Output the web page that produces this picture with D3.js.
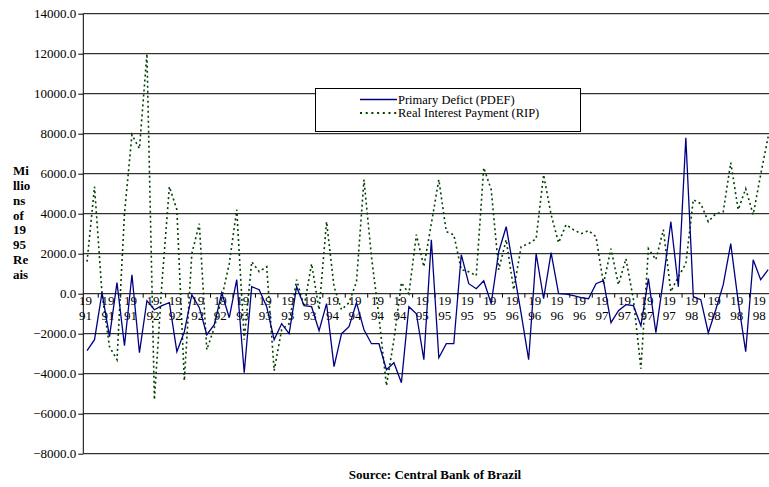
<!DOCTYPE html>
<html>
<head>
<meta charset="utf-8">
<script src="https://cdn.jsdelivr.net/npm/d3@7"></script>
<style>
  html, body { margin: 0; padding: 0; background: #fff; }
  svg { display: block; }
  text { font-family: "Liberation Serif", "Times New Roman", serif; fill: #000; }
</style>
</head>
<body>
<svg id="chart" width="769" height="487"></svg>
<script>
// Monthly categories, April 1991 – November 1998
const months = d3.timeMonths(new Date(1991, 3, 1), new Date(1998, 11, 1));

// Primary Deficit (PDEF), millions of 1995 Reais
const pdef = [
  -2850, -2300, 50, -2150, 550, -2600, 950, -2950, -350, -800,
  -600, -450, -2900, -1900, -50, -700, -2050, -1550, 50, -1200,
  700, -3950, 350, 200, -650, -2300, -1500, -2000, 350, -600,
  -650, -1850, -500, -3650, -2000, -1650, -450, -1800, -2500, -2500,
  -3800, -3450, -4450, -650, -1000, -3300, 2700, -3200, -2500, -2500,
  1950, 500, 250, 650, -500, 2100, 3350, 1200, -1000, -3300,
  2000, -250, 2050, 0, -20, -100, -200, -250, 500, 650,
  -1450, -850, -550, -600, -1600, 750, -1950, 700, 3600, 350,
  7800, -150, -300, -1950, -800, 450, 2500, -400, -2900, 1700,
  700, 1200
];

// Real Interest Payment (RIP), millions of 1995 Reais
const rip = [
  1600, 5350, 0, -2650, -3300, 4000, 7950, 7250, 12000, -5300,
  500, 5350, 4200, -4350, 2000, 3500, -2800, -1700, -200, 1500,
  4200, -2300, 1600, 1100, 1350, -3850, -1800, -1500, 700, -650,
  1500, -800, 3600, 350, -800, -450, 600, 5700, 1850, -1150,
  -4600, -2300, 550, 0, 2950, 1350, 3500, 5700, 3100, 2950,
  1200, 1100, 900, 6300, 5200, 1200, 2700, 200, 2350, 2500,
  2750, 5950, 3950, 2550, 3450, 3200, 3000, 3150, 2850, 500,
  2250, 450, 1750, -300, -3750, 2250, 1700, 3200, 100, 850,
  1500, 4700, 4500, 3600, 4000, 4100, 6550, 4200, 5250, 3950,
  5950, 7850
];

const yTicks = [-8000, -6000, -4000, -2000, 0, 2000, 4000, 6000, 8000, 10000, 12000, 14000];
const axisTitle = ["Mi", "llio", "ns", "of", "19", "95", "Re", "ais"];
const seriesNames = ["Primary Defict (PDEF)", "Real Interest Payment (RIP)"];
const sourceNote = "Source: Central Bank of Brazil";
const labelEvery = 3;

const svg = d3.select("#chart");
const W = 769;
const plotL = 83.3, plotR = 771.9, plotT = 13.7, plotB = 453.7;

const x = d3.scaleBand().domain(d3.range(months.length)).range([plotL, plotR]).paddingInner(0).paddingOuter(0);
const cx = i => x(i) + x.bandwidth() / 2;
const y = d3.scaleLinear().domain([-8000, 14000]).range([plotB, plotT]);

// horizontal gridlines
svg.append("g").selectAll("line").data(yTicks).join("line")
  .attr("x1", plotL).attr("x2", W)
  .attr("y1", d => y(d)).attr("y2", d => y(d))
  .attr("stroke", "#000").attr("stroke-width", 1);

// value axis with outward ticks
const yAxis = d3.axisLeft(y).tickValues(yTicks).tickFormat(d3.format(".1f")).tickSize(5).tickPadding(2);
const ya = svg.append("g").attr("transform", `translate(${plotL},0)`).call(yAxis);
ya.attr("font-family", null);
ya.select(".domain").attr("stroke", "#000").attr("d", `M0,${plotT}V${plotB}`);
ya.selectAll(".tick line").attr("stroke", "#000");
ya.selectAll(".tick text").style("font-size", "13px").attr("fill", "#000");

// category axis along zero line
const zy = y(0);
const labelIdx = d3.range(0, months.length, labelEvery);
const cat = svg.append("g");
cat.selectAll("line.tk").data(labelIdx).join("line").attr("class", "tk")
  .attr("x1", i => cx(i) + 1.5 * x.bandwidth()).attr("x2", i => cx(i) + 1.5 * x.bandwidth())
  .attr("y1", zy).attr("y2", zy + 4).attr("stroke", "#000");
const fmtYear = d3.timeFormat("%Y");
const lbl = cat.selectAll("text").data(labelIdx).join("text")
  .attr("text-anchor", "middle")
  .style("font-size", "13px");
lbl.append("tspan").attr("x", i => cx(i) - 1.5).attr("y", 305).text(i => fmtYear(months[i]).slice(0, 2));
lbl.append("tspan").attr("x", i => cx(i) - 1.5).attr("y", 320).text(i => fmtYear(months[i]).slice(2));

// series lines
const line = d3.line().x((d, i) => cx(i)).y(d => y(d));
svg.append("path").datum(rip).attr("d", line)
  .attr("fill", "none").attr("stroke", "#004000").attr("stroke-width", 1.6)
  .attr("stroke-dasharray", "2,3");
svg.append("path").datum(pdef).attr("d", line)
  .attr("fill", "none").attr("stroke", "#000080").attr("stroke-width", 1.3)
  .attr("stroke-linejoin", "miter");

// legend
const lg = svg.append("g");
lg.append("rect").attr("x", 315.5).attr("y", 88.5).attr("width", 265).attr("height", 43)
  .attr("fill", "#fff").attr("stroke", "#000").attr("stroke-width", 1);
const rowY = [99.5, 113];
lg.append("line").attr("x1", 360).attr("x2", 397).attr("y1", rowY[0]).attr("y2", rowY[0])
  .attr("stroke", "#000080").attr("stroke-width", 1.3);
lg.append("line").attr("x1", 360).attr("x2", 397).attr("y1", rowY[1]).attr("y2", rowY[1])
  .attr("stroke", "#004000").attr("stroke-width", 2).attr("stroke-dasharray", "2,3.7");
lg.selectAll("text").data(seriesNames).join("text")
  .attr("x", 398).attr("y", (d, i) => rowY[i] + 4)
  .style("font-size", "12.5px").text(d => d);

// value axis title, stacked
svg.append("g").selectAll("text").data(axisTitle).join("text")
  .attr("x", 13).attr("y", (d, i) => 175 + i * 14.86)
  .style("font-size", "13px").style("font-weight", "bold").text(d => d);

// source note
svg.append("text").attr("x", 435).attr("y", 479).attr("text-anchor", "middle")
  .style("font-size", "13px").style("font-weight", "bold").text(sourceNote);
</script>
</body>
</html>
